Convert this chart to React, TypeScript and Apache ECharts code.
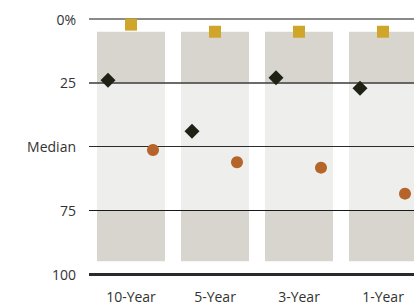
import React, { useEffect, useRef } from "react";
import * as echarts from "echarts";

const categories = ["10-Year", "5-Year", "3-Year", "1-Year"];
const yTickLabels: Record<number, string> = { 0: "0%", 25: "25", 50: "Median", 75: "75", 100: "100" };
const bandEdges = [5, 25, 75, 95];
const squareValues = [2.2, 5, 5, 5];
const diamondValues = [24, 44, 23, 27.2];
const circleValues = [51.4, 56.2, 58.3, 68.5];

export default function App() {
  const ref = useRef<HTMLDivElement>(null);
  useEffect(() => {
    if (!ref.current) return;
    const chart = echarts.init(ref.current, null, { renderer: "svg" });
    const font = "Open Sans";
    const seg = (i: number) => categories.map(() => bandEdges[i] - (i === 0 ? 0 : bandEdges[i - 1]));
    const barSeries = [
      { name: "base", color: "transparent", data: categories.map(() => bandEdges[0]) },
      { name: "q1", color: "#d8d5cf", data: seg(1) },
      { name: "mid", color: "#eeeeec", data: seg(2) },
      { name: "q4", color: "#d8d5cf", data: seg(3) },
    ].map((s) => ({
      type: "bar",
      name: s.name,
      stack: "band",
      barWidth: 68,
      data: s.data,
      itemStyle: { color: s.color },
      silent: true,
      z: 1,
    }));
    const lineStyles = [
      { v: 0, color: "#8a8a8a", width: 2 },
      { v: 25, color: "#3a3a3a", width: 1.5 },
      { v: 50, color: "#2a2a2a", width: 1.2 },
      { v: 75, color: "#1a1a1a", width: 1.2 },
      { v: 100, color: "#2a2a2a", width: 3 },
    ];
    chart.setOption({
      animation: false,
      grid: { left: 89, top: 19, height: 255, width: 336, outerBoundsMode: "none", containLabel: false },
      xAxis: {
        type: "category",
        data: categories,
        axisLine: { show: false },
        axisTick: { show: false },
        axisLabel: { fontFamily: font, fontSize: 14, color: "#333", margin: 15 },
      },
      yAxis: {
        type: "value",
        min: 0,
        max: 100,
        interval: 25,
        inverse: true,
        splitLine: { show: false },
        axisLine: { show: false },
        axisTick: { show: false },
        axisLabel: {
          fontFamily: font,
          fontSize: 14,
          color: "#333",
          margin: 13,
          formatter: (v: number) => yTickLabels[v] ?? "",
        },
      },
      series: [
        ...barSeries,
        {
          type: "line",
          data: [],
          z: 3,
          silent: true,
          markLine: {
            symbol: "none",
            silent: true,
            label: { show: false },
            data: lineStyles.map((l) => ({
              yAxis: l.v,
              lineStyle: { color: l.color, width: l.width, type: "solid" },
            })),
          },
        },
        {
          type: "scatter",
          data: squareValues,
          symbol: "rect",
          symbolSize: 12,
          itemStyle: { color: "#cfa52a", opacity: 1 },
          z: 5,
        },
        {
          type: "scatter",
          data: diamondValues,
          symbol: "diamond",
          symbolSize: [15, 15],
          symbolOffset: [-23, 0],
          itemStyle: { color: "#1f2114", opacity: 1 },
          z: 5,
        },
        {
          type: "scatter",
          data: circleValues,
          symbol: "circle",
          symbolSize: 12,
          symbolOffset: [22, 0],
          itemStyle: { color: "#b5652a", opacity: 1 },
          z: 5,
        },
      ],
    });
    return () => chart.dispose();
  }, []);
  return <div ref={ref} style={{ width: 414, height: 302, position: "absolute", left: 0, top: 0 }} />;
}
